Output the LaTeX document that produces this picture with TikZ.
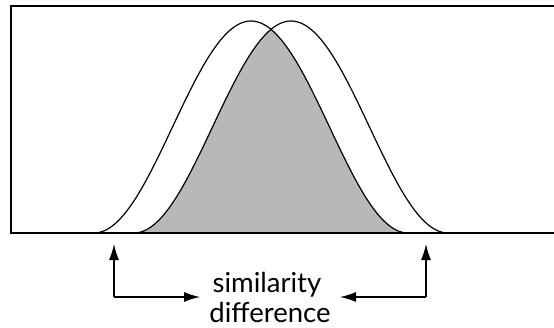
\documentclass[tikz,border=0pt]{standalone}
\usepackage{fontspec}
\setmainfont{Lato}
\usetikzlibrary{arrows.meta}
\begin{document}
\begin{tikzpicture}[x=1pt,y=1pt,
  curve/.style={line width=1.2pt,black},
  frameline/.style={line width=1.4pt,black},
  overlap/.style={fill=black!28},
  pointer/.style={line width=1.3pt,-{Latex[length=16pt,width=10pt]}},
  caption/.style={font=\fontsize{27.5}{33}\selectfont,anchor=base,inner sep=0pt}]
\useasboundingbox (0,0) rectangle (554,327);
% shaded overlap (minimum of both bells)
\fill[overlap] plot[domain=134:271,samples=80] (\x,{94+106*(1+cos(1.146497*(\x-291)))})
  -- plot[domain=271:408,samples=80] (\x,{94+106*(1+cos(1.146497*(\x-251)))}) -- cycle;
% frame (open on the right)
\draw[frameline] (554,321) -- (11,321) -- (11,94) -- (554,94);
% two bells
\draw[curve] plot[domain=94:408,samples=120] (\x,{94+106*(1+cos(1.146497*(\x-251)))});
\draw[curve] plot[domain=134:448,samples=120] (\x,{94+106*(1+cos(1.146497*(\x-291)))});
% labels
\node[caption] (sim) at (267,35) {similarity};
\node[caption] (dif) at (270,5) {difference};
% pointers
\coordinate (lstart) at (114,30);
\coordinate (rstart) at (426,30);
\coordinate (lend) at (200,30);
\coordinate (rend) at (340,30);
\draw[pointer] (lstart) -- (lend);
\draw[pointer] (lstart) -- (114,83);
\draw[pointer] (rstart) -- (rend);
\draw[pointer] (rstart) -- (426,83);
\end{tikzpicture}
\end{document}
